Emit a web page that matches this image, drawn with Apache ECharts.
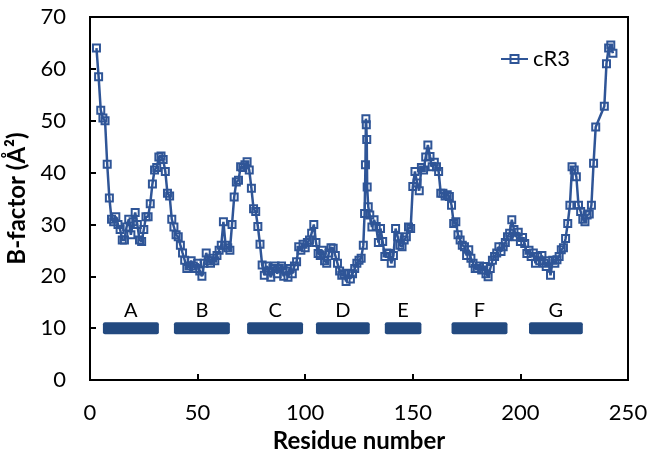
<!DOCTYPE html>
<html>
<head>
<meta charset="utf-8">
<script src="https://cdn.jsdelivr.net/npm/echarts@6/dist/echarts.min.js"></script>
<style>html,body{margin:0;padding:0;background:#fff;}#c{width:649px;height:455px;}</style>
</head>
<body>
<div id="c"></div>
<script>
var residues = [3,4,5,6,7,8,9,10,11,12,13,14,15,16,17,18,19,20,21,22,23,24,25,26,27,28,29,30,31,32,33,34,35,36,37,38,39,40,
41,42,43,44,45,46,47,48,49,50,51,52,53,54,55,56,57,58,59,60,61,62,63,64,65,66,67,68,69,70,71,72,73,74,75,76,77,78,79,80,
81,82,83,84,85,86,87,88,89,90,91,92,93,94,95,96,97,98,99,100,101,102,103,104,105,106,107,108,109,110,111,112,113,114,115,116,117,118,119,120,
121,122,123,124,125,126,127,127.6,128,128.2,128.4,128.6,128.8,129.3,130,131,132,133,134,135,136,137,138,139,140,141,142,143,144,145,146,147,148,149,150,
151,152,153,154,155,156,157,158,159,160,161,162,163,164,165,166,167,168,169,170,171,172,173,174,175,176,177,178,179,180,
181,182,183,184,185,186,187,188,189,190,191,192,193,194,195,196,197,198,199,200,201,202,203,204,205,206,207,208,209,210,
211,212,213,214,215,216,217,218,219,220,221,222,223,224,225,226,227,228,229,230,231,232,233,234,235,239,240,241,242,243];
var bFactor = [64,58.5,52,50.5,50,41.6,35.1,31,30.5,31.5,30,29,27,27,29.5,31,28,30.5,32.3,30,27,26.7,29,31.5,31.5,34,37.8,40.5,41,43,43.2,42.5,40.2,36,35.5,31,29.5,28,
27.6,26,24.5,23.1,21.5,22,23,22,21.5,22.5,21,20,22.5,24.5,23,22.5,23.5,23,24,25,26,30.5,26,25.5,25,30,35.3,38.2,38.5,41.1,41,41.5,42.1,40.5,37,33,32.5,29.6,26.2,22.2,
20.2,22,21,19.8,21.5,22,20.5,21.5,22,20,21,19.8,21.5,20.5,22,22.8,25.7,25,26.2,25.5,26.5,27,28.3,30,26.5,24.4,24,25,23,22.5,24.5,25.5,25.4,24,22.5,21,20.2,20.5,19,20.6,
19.5,20.5,21.5,22.5,23.1,23.5,26,32.1,41.5,50.4,49.2,46.4,37.2,33.4,31.8,29.5,30.9,29.6,26.5,29.2,26.7,23.8,24.5,24.4,22.5,24,29.2,27.6,26,25.7,27,27.6,29.5,29.2,37.3,
40.2,38,36.5,41,40.5,43,45.3,43.1,41.1,42,41.1,40.2,36,36,35.5,35.7,35.4,33.7,30.2,30.5,28,27,26,25.7,24,25.1,23.5,22.5,21.5,21.5,
22,21.2,21.9,20.5,19.9,21.5,23.1,23.8,24.5,25.7,24.8,25.7,26.5,27.6,28.3,30.9,29,27.6,28.5,26.7,27.5,26.3,24.4,25,23.8,24.5,22.5,23.8,23,24,
22.5,21.9,23,20.2,23.1,22.5,23.2,23.8,25.1,25.5,27.3,30.2,33.7,41.1,40.5,39.2,33.7,32.5,31,30.5,31.8,32,33.7,41.8,48.8,52.8,61,64,64.6,63];
var segStart = [6,39,73,105,137,168,204];
var segEnd = [32,65,99,130,154,194,229];
var segLabels = ['A','B','C','D','E','F','G'];
var segLevel = 10;
var xTicks = {min:0, max:250, interval:50};
var yTicks = {min:0, max:70, interval:10};

var lineData = residues.map(function(r,i){return [r,bFactor[i]];});
var segData = segStart.map(function(s,i){return [s,segEnd[i],segLevel,segLabels[i]];});
var FONT = 'Lato';
var BLUE = '#2F5597';
var chart = echarts.init(document.getElementById('c'));
chart.setOption({
  animation:false,
  backgroundColor:'#fff',
  textStyle:{fontFamily:FONT},
  grid:{left:90,right:21,top:17,bottom:75,show:true,borderColor:'#000',borderWidth:2,backgroundColor:'transparent',
    containLabel:false,outerBoundsMode:'none'},
  legend:{data:['cR3'],left:495,top:43,itemWidth:27,itemHeight:10,itemGap:3,
    textStyle:{fontFamily:FONT,fontSize:22,color:'#000'}},
  xAxis:{type:'value',min:xTicks.min,max:xTicks.max,interval:xTicks.interval,
    name:'Residue number',nameLocation:'middle',nameGap:46,
    nameTextStyle:{fontFamily:FONT,fontSize:24,fontWeight:'bold',color:'#000'},
    axisLine:{show:true,onZero:false,lineStyle:{color:'#000',width:2}},
    axisTick:{show:true,inside:true,length:6,lineStyle:{color:'#000',width:2}},
    axisLabel:{fontFamily:FONT,fontSize:22,color:'#000',margin:22},
    splitLine:{show:false}},
  yAxis:{type:'value',min:yTicks.min,max:yTicks.max,interval:yTicks.interval,
    name:'B-factor (Å²)',nameLocation:'middle',nameGap:55,
    nameTextStyle:{fontFamily:FONT,fontSize:24,fontWeight:'bold',color:'#000'},
    axisLine:{show:true,lineStyle:{color:'#000',width:2}},
    axisTick:{show:true,inside:true,length:6,lineStyle:{color:'#000',width:2}},
    axisLabel:{fontFamily:FONT,fontSize:22,color:'#000',margin:24},
    splitLine:{show:false}},
  series:[
    {type:'custom',name:'segments',data:segData,encode:{x:[0,1],y:2},silent:true,
     renderItem:function(params,api){
       var p0=api.coord([api.value(0),api.value(2)]);
       var p1=api.coord([api.value(1),api.value(2)]);
       var h=12;
       return {type:'group',children:[
         {type:'rect',shape:{x:p0[0],y:p0[1]-h/2,width:p1[0]-p0[0],height:h,r:2},style:{fill:'#234A80'}},
         {type:'text',style:{text:segLabels[params.dataIndex],x:(p0[0]+p1[0])/2,y:p0[1]-h/2-2,
           align:'center',verticalAlign:'bottom',fontFamily:FONT,fontSize:20,fill:'#000'}}
       ]};
     }},
    {type:'line',name:'cR3',data:lineData,symbol:'rect',symbolSize:7,showAllSymbol:true,
     lineStyle:{color:BLUE,width:2.5},
     itemStyle:{color:'rgba(255,255,255,0)',borderColor:BLUE,borderWidth:2}}
  ]
});
</script>
</body>
</html>
